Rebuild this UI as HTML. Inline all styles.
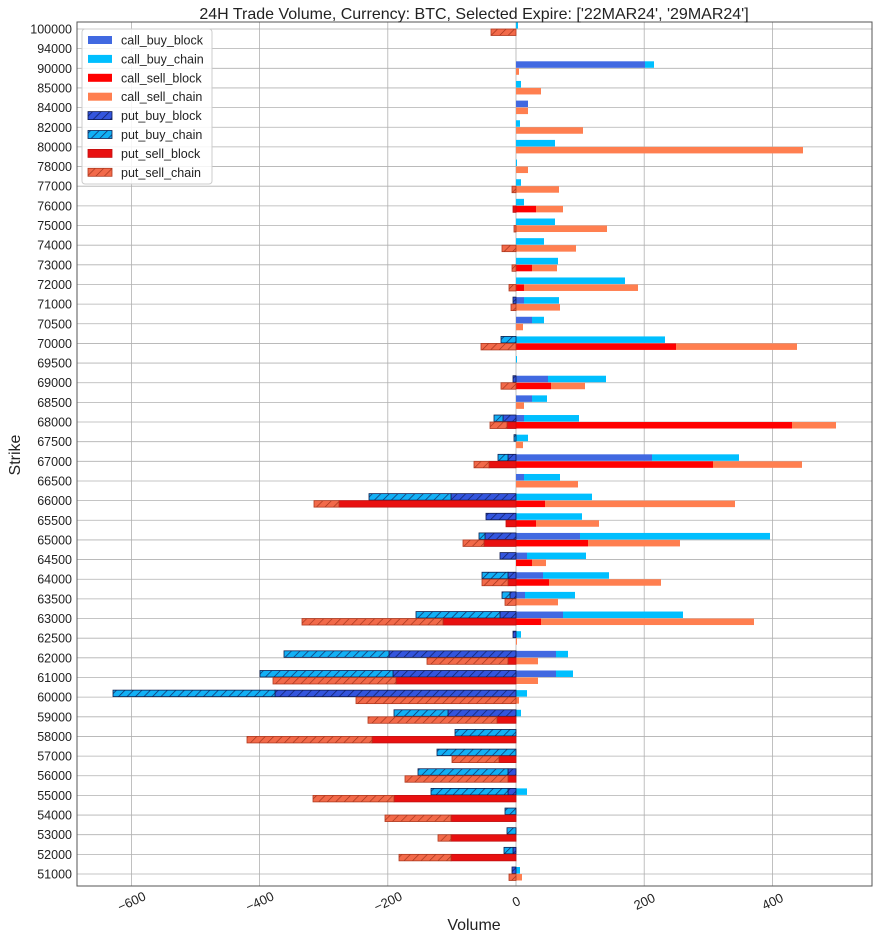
<!DOCTYPE html>
<html><head><meta charset="utf-8"><style>
body{margin:0;background:#fff}
svg{display:block;font-family:"Liberation Sans","DejaVu Sans",sans-serif}
</style></head><body>
<svg id="s" width="880" height="939" xmlns="http://www.w3.org/2000/svg">
<defs>
<pattern id="hb" width="6" height="6" patternUnits="userSpaceOnUse" patternTransform="rotate(45)"><rect width="6" height="6" fill="#3355dd"/><line x1="0" y1="0" x2="0" y2="6" stroke="#10206a" stroke-width="1.5"/></pattern>
<pattern id="hc" width="6" height="6" patternUnits="userSpaceOnUse" patternTransform="rotate(45)"><rect width="6" height="6" fill="#12b0f5"/><line x1="0" y1="0" x2="0" y2="6" stroke="#10306a" stroke-width="1.5"/></pattern>
<pattern id="hr" width="6" height="6" patternUnits="userSpaceOnUse" patternTransform="rotate(45)"><rect width="6" height="6" fill="#e81010"/></pattern>
<pattern id="ho" width="6" height="6" patternUnits="userSpaceOnUse" patternTransform="rotate(45)"><rect width="6" height="6" fill="#f26a4a"/><line x1="0" y1="0" x2="0" y2="6" stroke="#a03018" stroke-width="1.3"/></pattern>
</defs>
<g id="g"></g>
</svg>
<script>
const L=77,R=872,T=22,B=886,Z=516;
const strikes=["100000","94000","90000","85000","84000","82000","80000","78000","77000","76000","75000","74000","73000","72000","71000","70500","70000","69500","69000","68500","68000","67500","67000","66500","66000","65500","65000","64500","64000","63500","63000","62500","62000","61000","60000","59000","58000","57000","56000","55000","54000","53000","52000","51000"];
const D=[
[516,518,516,516,516,516,516,491],
[516,516,516,516,516,516,516,516],
[645,654,516,519,516,516,516,516],
[516,521,516,541,516,516,516,516],
[528,528,516,528,516,516,516,516],
[516,520,516,583,516,516,516,516],
[516,555,516,803,516,516,516,516],
[516,517,516,528,516,516,516,516],
[516,521,516,559,516,516,516,512],
[516,524,536,563,516,516,513,513],
[516,555,516,607,516,516,516,514],
[516,544,516,576,516,516,516,502],
[516,558,532,557,516,516,516,512],
[516,625,524,638,516,516,516,509],
[524,559,516,560,513,513,516,511],
[532,544,516,523,516,516,516,516],
[516,665,676,797,516,501,516,481],
[516,517,516,516,516,516,516,516],
[548,606,551,585,513,513,516,501],
[532,547,516,524,516,516,516,516],
[524,579,792,836,503,494,507,490],
[516,528,516,523,516,514,516,516],
[652,739,713,802,508,498,489,474],
[524,560,516,578,516,516,516,516],
[516,592,545,735,451,369,339,314],
[516,582,536,599,486,486,506,506],
[580,770,588,680,485,479,484,463],
[527,586,532,546,500,500,516,516],
[543,609,549,661,508,482,508,482],
[525,575,516,558,510,502,516,505],
[563,683,541,754,500,416,443,302],
[516,521,516,517,513,513,516,516],
[556,568,516,538,389,284,508,427],
[556,573,516,538,393,260,396,273],
[516,527,516,519,275,113,516,356],
[516,521,516,516,448,394,497,368],
[516,516,516,516,516,455,372,247],
[516,516,516,516,516,437,499,452],
[516,516,516,516,508,418,508,405],
[516,527,516,516,508,431,394,313],
[516,516,516,516,516,505,451,385],
[516,516,516,516,516,507,451,438],
[516,516,516,516,513,504,451,399],
[516,520,516,522,512,512,516,509]];
let h='';
const xt=[-600,-400,-200,0,200,400];
xt.forEach(v=>{const x=Z+v*0.641;h+=`<line x1="${x}" y1="${T}" x2="${x}" y2="${B}" stroke="#b0b0b0" stroke-width="0.8"/>`;
h+=`<text x="${x}" y="${B+20}" font-size="13" fill="#222" text-anchor="middle" transform="rotate(-25 ${x} ${B+15})">${v<0?'\u2212'+(-v):v}</text>`;});
const dy=(874-29)/43;
strikes.forEach((s,i)=>{const y=29+i*dy;h+=`<line x1="${L}" y1="${y}" x2="${R}" y2="${y}" stroke="#b0b0b0" stroke-width="0.8"/>`;
h+=`<text x="${L-5}" y="${y+4.5}" font-size="12.5" fill="#222" text-anchor="end">${s}</text>`;});
function r(x1,x2,y,f,st){if(Math.abs(x2-x1)<0.3)return '';const a=Math.min(x1,x2),w=Math.abs(x2-x1);
return `<rect x="${a}" y="${y}" width="${w}" height="6.5" fill="${f}"${st?` stroke="${st}" stroke-width="0.8"`:''}/>`;}
D.forEach((d,i)=>{const y=29+i*dy;const yb=y-7,ys=y;
h+=r(Z,d[0],yb,'#4169e1')+r(d[0],d[1],yb,'#00bfff')+r(Z,d[2],ys,'#ff0000')+r(d[2],d[3],ys,'#ff7f50');
h+=r(Z,d[4],yb,'url(#hb)','#101a50')+r(d[4],d[5],yb,'url(#hc)','#102050')+r(Z,d[6],ys,'url(#hr)','#c01010')+r(d[6],d[7],ys,'url(#ho)','#b03a20');});
h+=`<rect x="${L}" y="${T}" width="${R-L}" height="${B-T}" fill="none" stroke="#555" stroke-width="1"/>`;
h+=`<rect x="82" y="29" width="130" height="155" rx="3" fill="#fff" fill-opacity="0.85" stroke="#ccc"/>`;
const lg=[['call_buy_block','#4169e1'],['call_buy_chain','#00bfff'],['call_sell_block','#ff0000'],['call_sell_chain','#ff7f50'],['put_buy_block','url(#hb)','#101a50'],['put_buy_chain','url(#hc)','#102050'],['put_sell_block','url(#hr)','#c01010'],['put_sell_chain','url(#ho)','#b03a20']];
lg.forEach((l,i)=>{const y=40+i*18.9;h+=`<rect x="88" y="${y-4}" width="24" height="8" fill="${l[1]}"${l[2]?` stroke="${l[2]}" stroke-width="0.8"`:''}/>`;
h+=`<text x="121" y="${y+4.5}" font-size="12.5" fill="#222">${l[0]}</text>`;});
h+=`<text x="474" y="19" font-size="16" fill="#222" text-anchor="middle">24H Trade Volume, Currency: BTC, Selected Expire: ['22MAR24', '29MAR24']</text>`;
h+=`<text x="474" y="930" font-size="16" fill="#222" text-anchor="middle">Volume</text>`;
h+=`<text x="20" y="455" font-size="16" fill="#222" text-anchor="middle" transform="rotate(-90 20 455)">Strike</text>`;
document.getElementById('g').innerHTML=h;
</script>
</body></html>
